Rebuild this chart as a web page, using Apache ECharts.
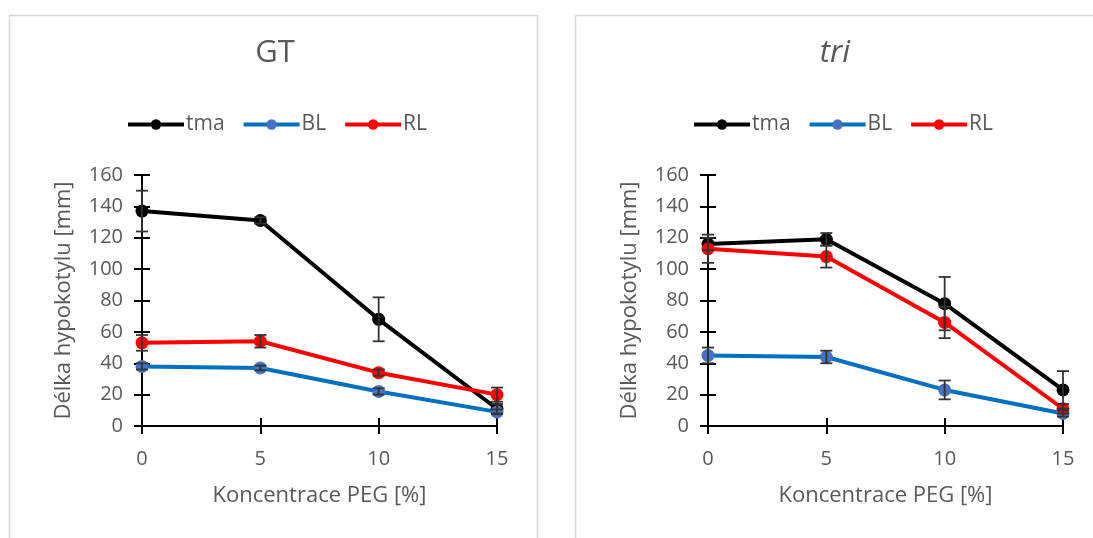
<!DOCTYPE html>
<html><head><meta charset="utf-8">
<script src="https://cdn.jsdelivr.net/npm/echarts@6/dist/echarts.min.js"></script>
<style>html,body{margin:0;padding:0;background:#fff}#c{width:1093px;height:538px}</style>
</head><body><div id="c"></div>
<script>
const xVals = [0, 5, 10, 15];
const yTicks = [0, 20, 40, 60, 80, 100, 120, 140, 160];
const seriesNames = ['tma', 'BL', 'RL'];
const panelTitles = ['GT', 'tri'];
// GT
const gtTma = [137, 131, 68, 11];
const gtTmaErr = [13, 2, 14, 3];
const gtBL = [38, 37, 22, 9];
const gtBLErr = [2, 1.5, 2, 1.5];
const gtRL = [53, 54, 34, 20];
const gtRLErr = [5, 4, 2, 4.5];
// tri
const triTma = [116, 119, 78, 23];
const triTmaErr = [4, 4, 17, 12];
const triBL = [45, 44, 23, 8];
const triBLErr = [5, 4, 6, 2];
const triRL = [113, 108, 66, 11];
const triRLErr = [9, 7, 10, 3];

const colors = { tma: '#000000', BL: '#0070C0', RL: '#FF0000' };
const markerColors = { tma: '#000000', BL: '#4472C4', RL: '#FF0000' };
const FONT = '"Open Sans", "Noto Sans", sans-serif';
const GRAY = '#595959';

const panels = [
  { title: panelTitles[0], italic: false, left: 142, data: { tma: [gtTma, gtTmaErr], BL: [gtBL, gtBLErr], RL: [gtRL, gtRLErr] }, legendLeft: 126, titleX: 275 },
  { title: panelTitles[1], italic: true, left: 708, data: { tma: [triTma, triTmaErr], BL: [triBL, triBLErr], RL: [triRL, triRLErr] }, legendLeft: 692, titleX: 835 }
];
const W = 355, TOP = 175, H = 251;

const grid = [], xAxis = [], yAxis = [], series = [], legend = [], title = [];
panels.forEach((p, pi) => {
  for (let k = 0; k < 2; k++) {
    grid.push({ left: p.left, top: TOP, width: W, height: H, containLabel: false });
    const gi = grid.length - 1;
    const main = k === 0;
    xAxis.push({
      type: 'value', gridIndex: gi, min: 0, max: 15, interval: 5,
      axisLine: { show: main, onZero: false, lineStyle: { color: '#000', width: 2 } },
      axisTick: { show: true, inside: !main, length: 8, lineStyle: { color: '#000', width: 2 } },
      axisLabel: { show: main, color: GRAY, fontSize: 20, fontFamily: FONT, margin: 23 },
      splitLine: { show: false },
      name: main ? 'Koncentrace PEG [%]' : '', nameLocation: 'middle', nameGap: 59,
      nameTextStyle: { color: GRAY, fontSize: 22, fontFamily: FONT }
    });
    yAxis.push({
      type: 'value', gridIndex: gi, min: 0, max: 160, interval: 20,
      axisLine: { show: main, lineStyle: { color: '#000', width: 2 } },
      axisTick: { show: true, inside: !main, length: 8, lineStyle: { color: '#000', width: 2 } },
      axisLabel: { show: main, color: GRAY, fontSize: 20, fontFamily: FONT, margin: 19 },
      splitLine: { show: false },
      name: main ? 'Délka hypokotylu [mm]' : '', nameLocation: 'middle', nameGap: 67,
      nameTextStyle: { color: GRAY, fontSize: 22, fontFamily: FONT }
    });
  }
  const gMain = pi * 2;
  seriesNames.forEach(n => {
    const [vals, errs] = p.data[n];
    series.push({
      name: n, type: 'line', xAxisIndex: gMain, yAxisIndex: gMain,
      data: xVals.map((x, i) => [x, vals[i]]),
      symbol: 'circle', symbolSize: 13, showSymbol: true,
      lineStyle: { color: colors[n], width: 4 },
      itemStyle: { color: markerColors[n] },
      z: 3, animation: false
    });
    series.push({
      name: n + ' err', type: 'custom', xAxisIndex: gMain, yAxisIndex: gMain,
      data: xVals.map((x, i) => [x, vals[i] - errs[i], vals[i] + errs[i]]),
      renderItem: (params, api) => {
        const lo = api.coord([api.value(0), api.value(1)]);
        const hi = api.coord([api.value(0), api.value(2)]);
        const hw = 6;
        const st = { stroke: '#333333', lineWidth: 1.8 };
        return { type: 'group', children: [
          { type: 'line', shape: { x1: lo[0], y1: lo[1], x2: hi[0], y2: hi[1] }, style: st },
          { type: 'line', shape: { x1: lo[0] - hw, y1: lo[1], x2: lo[0] + hw, y2: lo[1] }, style: st },
          { type: 'line', shape: { x1: hi[0] - hw, y1: hi[1], x2: hi[0] + hw, y2: hi[1] }, style: st }
        ]};
      },
      z: 4, animation: false, silent: true
    });
  });
  legend.push({
    data: seriesNames, left: p.legendLeft, top: 114, padding: 0, itemWidth: 56, itemHeight: 13, itemGap: 17,
    lineStyle: { width: 4 },
    textStyle: { color: GRAY, fontSize: 21, fontFamily: FONT, padding: [0, 0, 0, -3] },
    selectedMode: false
  });
  title.push({
    text: p.title, left: p.titleX, top: 38, textAlign: 'center', padding: 0,
    textStyle: { color: GRAY, fontSize: 31, fontWeight: 'normal', fontStyle: p.italic ? 'italic' : 'normal', fontFamily: FONT }
  });
});

const chart = echarts.init(document.getElementById('c'), null, { renderer: 'canvas' });
chart.setOption({
  backgroundColor: '#fff',
  animation: false,
  title, legend, grid, xAxis, yAxis, series,
  graphic: [
    { type: 'rect', shape: { x: 9.5, y: 15.5, width: 528, height: 540 }, style: { fill: 'none', stroke: '#D9D9D9', lineWidth: 1.5 }, z: -1 },
    { type: 'rect', shape: { x: 575.5, y: 15.5, width: 540, height: 540 }, style: { fill: 'none', stroke: '#D9D9D9', lineWidth: 1.5 }, z: -1 }
  ]
});
</script></body></html>
